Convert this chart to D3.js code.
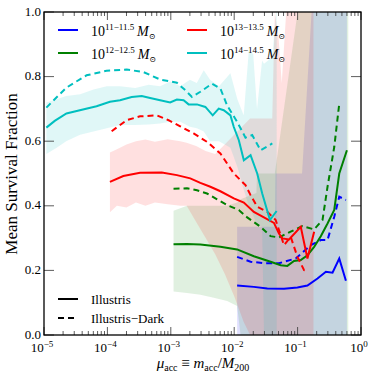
<!DOCTYPE html>
<html>
<head>
<meta charset="utf-8">
<script src="https://cdn.jsdelivr.net/npm/d3@7"></script>
<style>
  body { margin: 0; background: #fff; }
  svg { font-family: "Liberation Serif", "DejaVu Serif", serif; }
</style>
</head>
<body>
<svg id="chart" width="378" height="378"></svg>
<script>
// x values are log10(mu_acc), y values are mean survival fraction
var blueSolid = [[-1.954,0.153],[-1.690,0.149],[-1.478,0.144],[-1.214,0.143],[-1.003,0.147],[-0.845,0.153],[-0.686,0.175],[-0.554,0.196],[-0.449,0.193],[-0.343,0.237],[-0.238,0.168]];
var blueDash = [[-1.954,0.242],[-1.742,0.227],[-1.531,0.222],[-1.294,0.222],[-1.030,0.237],[-0.792,0.278],[-0.634,0.294],[-0.528,0.294],[-0.422,0.366],[-0.343,0.428],[-0.238,0.418]];
var greenSolid = [[-2.957,0.281],[-2.745,0.282],[-2.534,0.280],[-2.218,0.273],[-1.954,0.265],[-1.690,0.244],[-1.426,0.227],[-1.267,0.216],[-1.162,0.214],[-1.056,0.229],[-0.950,0.232],[-0.845,0.247],[-0.739,0.273],[-0.634,0.306],[-0.528,0.345],[-0.422,0.387],[-0.343,0.500],[-0.222,0.572]];
var greenDash = [[-2.957,0.453],[-2.745,0.454],[-2.587,0.448],[-2.429,0.438],[-2.270,0.420],[-2.112,0.402],[-1.927,0.387],[-1.795,0.364],[-1.584,0.335],[-1.426,0.306],[-1.294,0.302],[-1.109,0.320],[-0.924,0.337],[-0.739,0.327],[-0.607,0.356],[-0.528,0.459],[-0.422,0.582],[-0.343,0.716]];
var redSolid = [[-3.960,0.474],[-3.749,0.492],[-3.485,0.502],[-3.142,0.503],[-2.904,0.495],[-2.693,0.485],[-2.534,0.471],[-2.376,0.459],[-2.218,0.445],[-2.006,0.423],[-1.848,0.410],[-1.690,0.381],[-1.531,0.364],[-1.373,0.347],[-1.294,0.314],[-1.241,0.299],[-1.135,0.296],[-0.950,0.335],[-0.845,0.237],[-0.739,0.320]];
var redDash = [[-3.933,0.631],[-3.696,0.665],[-3.485,0.677],[-3.221,0.680],[-3.036,0.665],[-2.851,0.646],[-2.640,0.624],[-2.429,0.598],[-2.218,0.562],[-2.006,0.500],[-1.822,0.464],[-1.742,0.433],[-1.637,0.397],[-1.478,0.381],[-1.346,0.356],[-1.267,0.309],[-1.214,0.278],[-1.109,0.304],[-1.003,0.242],[-0.898,0.201],[-0.845,0.199]];
var cyanSolid = [[-4.963,0.642],[-4.831,0.663],[-4.646,0.686],[-4.435,0.696],[-4.171,0.708],[-3.960,0.722],[-3.801,0.727],[-3.617,0.737],[-3.458,0.740],[-3.326,0.734],[-3.168,0.727],[-3.010,0.720],[-2.904,0.729],[-2.798,0.727],[-2.719,0.714],[-2.587,0.714],[-2.455,0.706],[-2.339,0.680],[-2.244,0.701],[-2.165,0.696],[-2.059,0.680],[-2.006,0.644],[-1.927,0.603],[-1.848,0.541],[-1.742,0.557],[-1.637,0.500],[-1.558,0.438],[-1.436,0.356],[-1.331,0.384]];
var cyanDash = [[-4.963,0.704],[-4.646,0.766],[-4.329,0.804],[-4.013,0.818],[-3.696,0.822],[-3.432,0.814],[-3.168,0.791],[-2.904,0.781],[-2.772,0.758],[-2.666,0.737],[-2.534,0.753],[-2.350,0.778],[-2.218,0.763],[-2.112,0.711],[-1.954,0.660],[-1.822,0.611],[-1.716,0.619],[-1.584,0.572],[-1.399,0.593]];

// shaded spread around the Illustris curves: [log10 mu, low, high]
var blueBand = [[-1.954,0,0.335],[-1.36,0,0.335],[-1.35,0,0.5],[-0.93,0,0.5],[-0.78,0,1],[-0.222,0,1]];
var greenBand = [[-2.957,0.135,0.385],[-2.745,0.13,0.40],[-2.534,0.125,0.40],[-2.323,0.115,0.40],[-2.112,0.105,0.40],[-1.954,0.09,0.41],[-1.90,0,0.42],[-1.65,0,0.44],[-1.64,0,0.5],[-1.36,0,0.5],[-1.0,0,1],[-0.20,0,1]];
var redBand = [[-3.960,0.38,0.565],[-3.85,0.40,0.575],[-3.70,0.395,0.59],[-3.55,0.41,0.60],[-3.40,0.40,0.605],[-3.25,0.41,0.598],[-3.05,0.405,0.606],[-2.85,0.40,0.60],[-2.75,0.40,0.595],[-2.60,0.35,0.585],[-2.45,0.30,0.57],[-2.30,0.25,0.56],[-2.15,0.19,0.59],[-2.0,0.12,0.62],[-1.85,0.04,0.65],[-1.75,0,0.67],[-1.40,0,0.67],[-1.36,0,1],[-1.30,0,0.92],[-1.25,0,0.78],[-1.18,0,1],[-0.75,0,1]];
var cyanBand = [[-4.963,0.56,0.72],[-4.80,0.58,0.73],[-4.65,0.60,0.74],[-4.43,0.62,0.745],[-4.22,0.63,0.76],[-4.01,0.64,0.77],[-3.80,0.65,0.77],[-3.56,0.65,0.765],[-3.35,0.652,0.775],[-3.17,0.655,0.77],[-3.01,0.66,0.785],[-2.85,0.66,0.77],[-2.70,0.645,0.79],[-2.59,0.64,0.78],[-2.48,0.63,0.82],[-2.38,0.60,0.79],[-2.24,0.60,0.77],[-2.06,0.58,0.81],[-1.95,0.52,0.73],[-1.85,0.45,0.68],[-1.77,0.40,0.88],[-1.70,0.37,0.87],[-1.64,0.34,0.70],[-1.56,0.335,0.85],[-1.53,0,0.84],[-1.40,0,0.86],[-1.34,0,1],[-1.33,0,1]];

var xTickExp = [-5,-4,-3,-2,-1,0];
var yTicks = [0,0.2,0.4,0.6,0.8,1.0];
var massLabels = ["11\u221211.5","12\u221212.5","13\u221213.5","14\u221214.5"];
var colors = ["#0000ff","#008000","#ff0000","#00bfbf"];

var svg = d3.select("#chart");
var L = 44, R = 361, T = 12, B = 335;
var x = d3.scaleLog().domain([1e-5,1]).range([L,R]);
var y = d3.scaleLinear().domain([0,1]).range([B,T]);
function px(d){ return x(Math.pow(10,d[0])); }

svg.append("defs").append("clipPath").attr("id","clip")
  .append("rect").attr("x",L).attr("y",T).attr("width",R-L).attr("height",B-T);
var plot = svg.append("g").attr("clip-path","url(#clip)");

var area = d3.area().x(px).y0(function(d){return y(d[1]);}).y1(function(d){return y(d[2]);});
var line = d3.line().x(px).y(function(d){return y(d[1]);});

var bands = [blueBand, greenBand, redBand, cyanBand];
bands.forEach(function(b,i){
  plot.append("path").attr("d",area(b)).attr("fill",colors[i]).attr("fill-opacity",0.12).attr("stroke","none");
});

var series = [
  {d: blueSolid, c: 0, dash: false}, {d: blueDash, c: 0, dash: true},
  {d: greenSolid, c: 1, dash: false}, {d: greenDash, c: 1, dash: true},
  {d: redSolid, c: 2, dash: false}, {d: redDash, c: 2, dash: true},
  {d: cyanSolid, c: 3, dash: false}, {d: cyanDash, c: 3, dash: true}
];
series.forEach(function(s){
  plot.append("path").attr("d",line(s.d)).attr("fill","none")
    .attr("stroke",colors[s.c]).attr("stroke-width",2)
    .attr("stroke-dasharray", s.dash ? "6,4" : null);
});

// ticks (inward, both sides)
var tg = svg.append("g").attr("stroke","#333").attr("stroke-width",0.8);
xTickExp.forEach(function(e){
  var xx = x(Math.pow(10,e));
  tg.append("line").attr("x1",xx).attr("x2",xx).attr("y1",B).attr("y2",B-8);
  tg.append("line").attr("x1",xx).attr("x2",xx).attr("y1",T).attr("y2",T+8);
  if (e < 0) {
    for (var k = 2; k <= 9; k++) {
      var xm = x(k*Math.pow(10,e));
      tg.append("line").attr("x1",xm).attr("x2",xm).attr("y1",B).attr("y2",B-4);
      tg.append("line").attr("x1",xm).attr("x2",xm).attr("y1",T).attr("y2",T+4);
    }
  }
});
yTicks.forEach(function(v){
  tg.append("line").attr("x1",L).attr("x2",L+10).attr("y1",y(v)).attr("y2",y(v));
  tg.append("line").attr("x1",R).attr("x2",R-10).attr("y1",y(v)).attr("y2",y(v));
});

svg.append("rect").attr("x",L).attr("y",T).attr("width",R-L).attr("height",B-T)
  .attr("fill","none").attr("stroke","#000").attr("stroke-width",1.3);

// tick labels
yTicks.forEach(function(v){
  svg.append("text").attr("x",L-3).attr("y",y(v)+3.5).attr("text-anchor","end")
    .attr("font-size",13).text(v.toFixed(1));
});
xTickExp.forEach(function(e){
  var t = svg.append("text").attr("x",x(Math.pow(10,e))-2).attr("y",352)
    .attr("text-anchor","middle").attr("font-size",13);
  t.append("tspan").text("10");
  t.append("tspan").attr("dy",-5).attr("font-size",9).text(e===0 ? "0" : "\u2212"+(-e));
});

// axis labels
svg.append("text").attr("transform","translate(17,174) rotate(-90)")
  .attr("text-anchor","middle").attr("font-size",17).text("Mean Survival Fraction");
var xl = svg.append("text").attr("x",203).attr("y",368).attr("text-anchor","middle").attr("font-size",15);
xl.append("tspan").attr("font-style","italic").text("\u03bc");
xl.append("tspan").attr("font-size",10).attr("dy",3).text("acc");
xl.append("tspan").attr("dy",-3).text(" \u2261 ");
xl.append("tspan").attr("font-style","italic").text("m");
xl.append("tspan").attr("font-size",10).attr("dy",3).text("acc");
xl.append("tspan").attr("dy",-3).text("/");
xl.append("tspan").attr("font-style","italic").text("M");
xl.append("tspan").attr("font-size",10).attr("dy",3).text("200");

// mass legend
var legPos = [[58,30],[58,53],[187,30],[187,53]];
massLabels.forEach(function(lab,i){
  var p = legPos[i];
  svg.append("line").attr("x1",p[0]).attr("x2",p[0]+20).attr("y1",p[1]).attr("y2",p[1])
    .attr("stroke",colors[i]).attr("stroke-width",2);
  var t = svg.append("text").attr("x",p[0]+33).attr("y",p[1]+6).attr("font-size",14);
  t.append("tspan").text("10");
  t.append("tspan").attr("dy",-6).attr("font-size",9).text(lab);
  t.append("tspan").attr("dy",6).attr("font-style","italic").text("\u2009M");
  t.append("tspan").attr("dy",3).attr("font-size",8).text("\u2299");
});

// line style legend
var styles = [["Illustris",null,299],["Illustris\u2212Dark","6,4",318]];
styles.forEach(function(s){
  svg.append("line").attr("x1",58).attr("x2",78).attr("y1",s[2]).attr("y2",s[2])
    .attr("stroke","#000").attr("stroke-width",2).attr("stroke-dasharray",s[1]);
  svg.append("text").attr("x",91).attr("y",s[2]+4.5).attr("font-size",13).text(s[0]);
});
</script>
</body>
</html>
